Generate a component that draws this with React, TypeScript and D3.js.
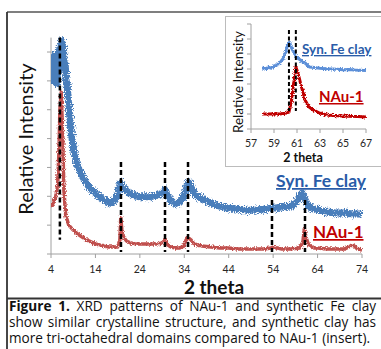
import React, { useEffect, useRef } from "react";
import * as d3 from "d3";

// ---------- DATA ----------
const MAIN_X_TICKS = [4, 14, 24, 34, 44, 54, 64, 74];
const MAIN_Y_TICKS = [0, 100, 200, 300, 400, 500, 600, 700];
const INSET_X_TICKS = [57, 59, 61, 63, 65, 67];
const INSET_Y_TICKS = [0, 100, 200, 300, 400, 500, 600, 700];

// Syn. Fe clay, main pattern [2theta, intensity]
const synFeMain: [number, number][] = [
  [4.0, 640], [4.2, 600], [4.4, 680], [4.6, 610], [4.8, 690], [5.0, 600], [5.2, 665],
  [5.4, 590], [5.6, 700], [5.8, 650], [6.0, 720], [6.2, 660], [6.4, 740], [6.6, 670],
  [6.8, 720], [7.0, 640], [7.2, 660], [7.4, 600], [7.6, 590], [8.0, 516], [8.5, 430],
  [9.0, 367], [9.5, 333], [10, 308], [11, 270], [12, 246], [13, 225], [14, 211],
  [15, 198], [16, 187], [17, 177], [18, 180], [19, 204], [19.6, 246], [20, 236],
  [20.5, 229], [21, 218], [22, 208], [23, 201], [24, 198], [25, 198], [26, 198],
  [27, 201], [28, 204], [29, 211], [29.7, 222], [30.3, 201], [31, 184], [32, 173],
  [33, 180], [34, 201], [34.6, 236], [35.1, 249], [35.6, 232], [36.5, 204], [38, 191],
  [40, 177], [42, 166], [44, 159], [46, 156], [48, 152], [50, 152], [52, 156],
  [54, 159], [56, 163], [58, 166], [59, 177], [60, 198], [60.5, 211], [61, 194],
  [62, 163], [64, 152], [66, 146], [68, 142], [70, 142], [72, 139], [74, 139],
];

// NAu-1, main pattern [2theta, intensity]
const nau1Main: [number, number][] = [
  [4.0, 163], [4.5, 177], [5.0, 194], [5.5, 239], [5.8, 360], [6.0, 499], [6.3, 561],
  [6.6, 430], [6.9, 222], [7.3, 135], [8, 100], [9, 83], [10, 69], [11, 59], [12, 49],
  [13, 42], [14, 35], [15, 31], [16, 28], [17, 24], [18, 24], [19, 24], [19.5, 49],
  [19.7, 125], [20, 76], [20.5, 55], [21, 45], [22, 38], [23, 35], [24, 35], [25, 35],
  [26, 35], [27, 35], [28, 35], [29, 38], [29.7, 49], [30.3, 31], [31, 24], [32, 21],
  [33, 21], [34, 28], [34.5, 55], [35, 55], [35.5, 49], [36, 38], [37, 31], [38, 28],
  [40, 24], [42, 21], [44, 21], [46, 17], [48, 17], [50, 17], [52, 17], [53.5, 21],
  [54, 24], [55, 21], [56, 17], [58, 17], [60, 21], [60.7, 42], [61, 87], [61.3, 62],
  [62, 31], [63, 21], [64, 21], [66, 17], [68, 17], [70, 17], [71.5, 28], [72, 31],
  [72.5, 24], [73, 17], [74, 14],
];

// reference lines [2theta, top intensity, bottom intensity]
const mainRefLines: [number, number, number][] = [
  [6.0, 750, 49], [19.75, 319, 7], [29.66, 319, 7], [34.84, 319, 7],
  [53.74, 187, 7], [61.17, 187, 7],
];

// insert (57-67 degrees)
const synFeInset: [number, number][] = [
  [58.0, 407], [58.3, 400], [58.5, 412], [58.8, 405], [59.0, 420], [59.3, 428],
  [59.5, 440], [59.8, 470], [60.0, 510], [60.2, 565], [60.35, 578], [60.5, 545],
  [60.8, 500], [61.0, 475], [61.3, 460], [61.7, 440], [62.1, 413], [62.5, 410],
  [63, 405], [63.5, 402], [64, 400], [64.5, 398], [65, 395], [65.5, 396], [66, 393],
  [66.5, 392], [67, 390],
];

const nau1Inset: [number, number][] = [
  [58.0, 100], [58.5, 100], [59.0, 102], [59.5, 100], [60.0, 105], [60.3, 113],
  [60.5, 180], [60.7, 300], [60.9, 413], [61.1, 370], [61.3, 307], [61.5, 250],
  [61.7, 193], [62.0, 150], [62.4, 127], [63.0, 105], [63.6, 93], [64.5, 88],
  [65.5, 85], [66.3, 84], [67.0, 80],
];

const insetRefLines: [number, number, number][] = [
  [60.3, 660, 120], [60.9, 660, 120],
];

const SERIES_NAMES = ["Syn. Fe clay", "NAu-1"];
const AXIS_X_TITLE = "2 theta";
const AXIS_Y_TITLE = "Relative Intensity";

const CAPTION_LINES: { words: { t: string; b?: boolean }[]; justify: boolean }[] = [
  {
    words: [
      { t: "Figure", b: true }, { t: "1.", b: true }, { t: "XRD" }, { t: "patterns" },
      { t: "of" }, { t: "NAu-1" }, { t: "and" }, { t: "synthetic" }, { t: "Fe" }, { t: "clay" },
    ],
    justify: true,
  },
  {
    words: "show similar crystalline structure, and synthetic clay has"
      .split(" ")
      .map((t) => ({ t })),
    justify: true,
  },
  {
    words: "more tri-octahedral domains compared to NAu-1 (insert)."
      .split(" ")
      .map((t) => ({ t })),
    justify: false,
  },
];

// ---------- STYLE ----------
const W = 381;
const H = 349;
const FONT = "Lato, 'Open Sans', sans-serif";
const CAP_FONT = "'Open Sans', Lato, sans-serif";
const AXIS_COLOR = "#a0a0a0";
const TEXT_COLOR = "#262626";
const BLUE = "#4a7ebb";
const RED = "#c0504d";
const BLUE_IN = "#5b8fd8";
const RED_IN = "#c00000";
const BLUE_LABEL = "#2a5ca8";
const RED_LABEL = "#c00000";

export default function App() {
  const capRef = useRef<SVGGElement>(null);

  const xMain = d3.scaleLinear().domain([4, 74]).range([51, 362]);
  const yMain = d3.scaleLinear().domain([0, 750]).range([254, 37.6]);
  const xIn = d3.scaleLinear().domain([57, 67]).range([251, 366]);
  const yIn = d3.scaleLinear().domain([0, 700]).range([129, 24]);

  const lineMain = d3
    .line<[number, number]>()
    .x((d) => xMain(d[0]))
    .y((d) => yMain(d[1]));
  const lineIn = d3
    .line<[number, number]>()
    .x((d) => xIn(d[0]))
    .y((d) => yIn(d[1]));

  useEffect(() => {
    const g = d3.select(capRef.current);
    g.selectAll("*").remove();
    const L = 9;
    const R = 376;
    const Y0 = 311;
    const LH = 16;
    CAPTION_LINES.forEach((line, i) => {
      const y = Y0 + i * LH;
      const text = g
        .append("text")
        .attr("y", y)
        .attr("font-family", CAP_FONT)
        .attr("font-size", 13.6)
        .attr("fill", "#111");
      if (!line.justify) {
        text.attr("x", L).text(line.words.map((w) => w.t).join(" "));
        return;
      }
      const spans = line.words.map((w) =>
        text.append("tspan").attr("font-weight", w.b ? 700 : 400).text(w.t)
      );
      const widths = spans.map((s) => (s.node() as SVGTSpanElement).getComputedTextLength());
      const total = d3.sum(widths);
      const gap = (R - L - total) / (spans.length - 1);
      let x = L;
      spans.forEach((s, j) => {
        s.attr("x", x);
        x += widths[j] + gap;
      });
    });
  }, []);

  return (
    <svg
      width={W}
      height={H}
      style={{ position: "absolute", left: 0, top: 0, background: "#fff" }}
      fontFamily={FONT}
    >
      <defs>
        <filter id="noiseBig" x="-5%" y="-5%" width="110%" height="110%">
          <feTurbulence type="fractalNoise" baseFrequency="0.9" numOctaves="2" seed="3" result="n" />
          <feDisplacementMap in="SourceGraphic" in2="n" scale="7" xChannelSelector="R" yChannelSelector="G" />
        </filter>
        <filter id="noiseSmall" x="-5%" y="-5%" width="110%" height="110%">
          <feTurbulence type="fractalNoise" baseFrequency="0.9" numOctaves="2" seed="7" result="n" />
          <feDisplacementMap in="SourceGraphic" in2="n" scale="4" xChannelSelector="R" yChannelSelector="G" />
        </filter>
        <clipPath id="mainClip">
          <rect x={51} y={36} width={315} height={220} />
        </clipPath>
      </defs>

      {/* frame lines */}
      <line x1={7} x2={W} y1={12} y2={12} stroke="#555" strokeWidth={1.5} />
      <line x1={7} x2={7} y1={12} y2={H} stroke="#333" strokeWidth={1.8} />
      <line x1={7} x2={W} y1={298.5} y2={298.5} stroke="#333" strokeWidth={2} />

      {/* main axes */}
      <line x1={51} x2={51} y1={yMain(750)} y2={254} stroke={AXIS_COLOR} strokeWidth={1} />
      <line x1={51} x2={362} y1={254} y2={254} stroke={AXIS_COLOR} strokeWidth={1} />
      {MAIN_Y_TICKS.map((t) => (
        <line key={"my" + t} x1={47} x2={51} y1={yMain(t)} y2={yMain(t)} stroke={AXIS_COLOR} />
      ))}
      {MAIN_X_TICKS.map((t) => (
        <g key={"mx" + t}>
          <line x1={xMain(t)} x2={xMain(t)} y1={254} y2={258} stroke={AXIS_COLOR} />
          <text x={xMain(t)} y={272.5} textAnchor="middle" fontSize={10.5} fill={TEXT_COLOR}>
            {t}
          </text>
        </g>
      ))}
      <text x={214} y={293.5} textAnchor="middle" fontSize={19} fontWeight={700} fill="#111">
        {AXIS_X_TITLE}
      </text>
      <text
        transform="translate(33,139) rotate(-90)"
        textAnchor="middle"
        fontSize={20}
        fill="#111"
      >
        {AXIS_Y_TITLE}
      </text>

      {/* main series */}
      <g clipPath="url(#mainClip)">
        <path d={lineMain(synFeMain) || ""} fill="none" stroke={BLUE} strokeWidth={7} strokeLinejoin="round" filter="url(#noiseBig)" />
        <path d={lineMain(nau1Main) || ""} fill="none" stroke={RED} strokeWidth={3.5} strokeLinejoin="round" filter="url(#noiseSmall)" />
      </g>
      {mainRefLines.map(([x, y0, y1], i) => (
        <line
          key={"mr" + i}
          x1={xMain(x)}
          x2={xMain(x)}
          y1={yMain(y0)}
          y2={yMain(y1)}
          stroke="#000"
          strokeWidth={2.5}
          strokeDasharray="5,3"
        />
      ))}
      <text x={276} y={187} fontSize={17.5} fontWeight={700} fill={BLUE_LABEL} textDecoration="underline">
        {SERIES_NAMES[0]}
      </text>
      <text x={313} y={238} fontSize={17} fontWeight={700} fill={RED_LABEL} textDecoration="underline">
        {SERIES_NAMES[1]}
      </text>

      {/* inset */}
      <rect x={225.5} y={16.5} width={170} height={150} fill="#fff" stroke="#bcbcbc" strokeWidth={1} />
      <line x1={251} x2={251} y1={yIn(700)} y2={129} stroke={AXIS_COLOR} />
      <line x1={251} x2={366} y1={129} y2={129} stroke={AXIS_COLOR} />
      {INSET_Y_TICKS.map((t) => (
        <line key={"iy" + t} x1={247} x2={251} y1={yIn(t)} y2={yIn(t)} stroke={AXIS_COLOR} />
      ))}
      {INSET_X_TICKS.map((t) => (
        <g key={"ix" + t}>
          <line x1={xIn(t)} x2={xIn(t)} y1={129} y2={133} stroke={AXIS_COLOR} />
          <text x={xIn(t)} y={147} textAnchor="middle" fontSize={10.5} fill={TEXT_COLOR}>
            {t}
          </text>
        </g>
      ))}
      <text x={303} y={162} textAnchor="middle" fontSize={12.5} fontWeight={700} fill="#111">
        {AXIS_X_TITLE}
      </text>
      <text transform="translate(243,82) rotate(-90)" textAnchor="middle" fontSize={13.5} fill="#111">
        {AXIS_Y_TITLE}
      </text>
      <path d={lineIn(synFeInset) || ""} fill="none" stroke={BLUE_IN} strokeWidth={3} strokeLinejoin="round" filter="url(#noiseSmall)" />
      <path d={lineIn(nau1Inset) || ""} fill="none" stroke={RED_IN} strokeWidth={3} strokeLinejoin="round" filter="url(#noiseSmall)" />
      {insetRefLines.map(([x, y0, y1], i) => (
        <line
          key={"ir" + i}
          x1={xIn(x)}
          x2={xIn(x)}
          y1={yIn(y0)}
          y2={yIn(y1)}
          stroke="#000"
          strokeWidth={2}
          strokeDasharray="4,2.5"
        />
      ))}
      <text x={302} y={54} fontSize={13.5} fontWeight={700} fill={BLUE_LABEL} textDecoration="underline">
        {SERIES_NAMES[0]}
      </text>
      <text x={319} y={102} fontSize={15} fontWeight={700} fill={RED_LABEL} textDecoration="underline">
        {SERIES_NAMES[1]}
      </text>

      {/* caption */}
      <g ref={capRef} />
    </svg>
  );
}
